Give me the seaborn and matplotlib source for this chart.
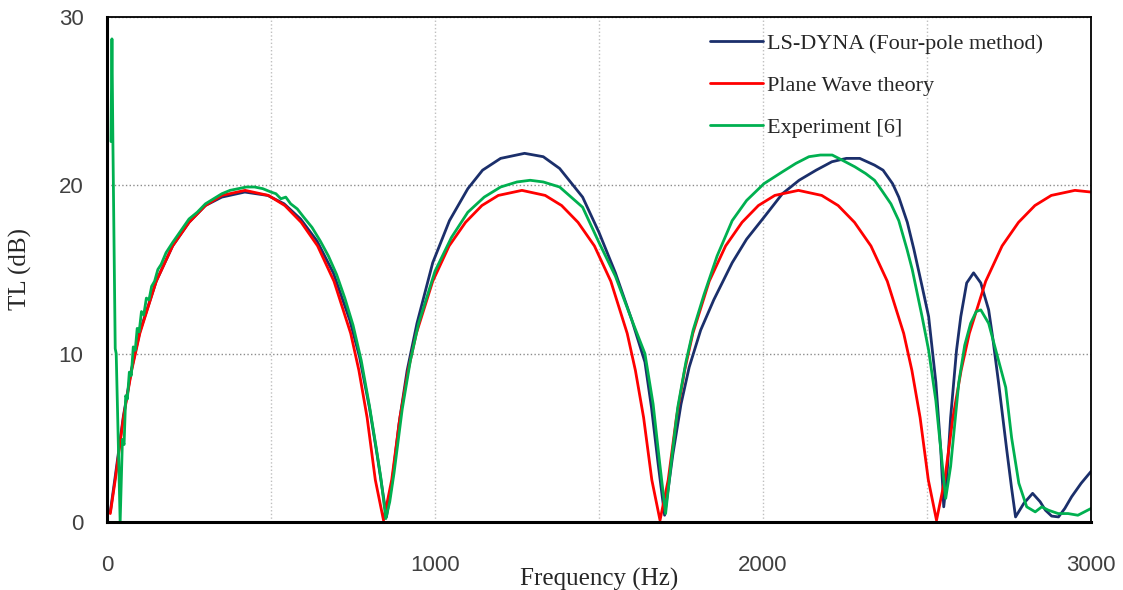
import pandas as pd
import numpy as np
import matplotlib
matplotlib.use("Agg")
import matplotlib.pyplot as plt
from matplotlib.ticker import MultipleLocator
import seaborn as sns

# LS-DYNA (four-pole method)
dyna_f = [10, 25, 50, 75, 100, 150, 200, 250, 300, 350, 420, 490, 540, 590, 640, 690, 740, 770, 800, 825, 852,
          870, 890, 915, 945, 993, 1044, 1100, 1145, 1200, 1273, 1330, 1380, 1450, 1500, 1550, 1600, 1640, 1660, 1680, 1700,
          1725, 1750, 1775, 1810, 1850, 1906, 1950, 2003, 2059, 2110, 2162, 2210, 2254, 2295, 2340, 2366, 2395, 2414,
          2440, 2460, 2485, 2505, 2527, 2542, 2551, 2560, 2572, 2590, 2603, 2621, 2642, 2664, 2688, 2700, 2718, 2743,
          2758, 2770, 2795, 2822, 2845, 2861, 2880, 2901, 2920, 2941, 2970, 3000]
dyna_tl = [0.6, 2.7, 6.3, 9.1, 11.3, 14.3, 16.4, 17.8, 18.8, 19.3, 19.6, 19.4, 18.9, 18.0, 16.7, 14.8, 12.0, 9.8, 6.8, 3.8, 0.3,
           2.5, 5.8, 9.0, 11.8, 15.4, 17.9, 19.8, 20.9, 21.6, 21.9, 21.7, 21.0, 19.3, 17.2, 14.8, 12.0, 9.5, 6.8, 3.5, 0.4,
           4.0, 7.0, 9.2, 11.4, 13.2, 15.4, 16.8, 18.1, 19.5, 20.3, 20.9, 21.4, 21.6, 21.6, 21.2, 20.9, 20.1, 19.3,
           17.8, 16.2, 14.0, 12.2, 8.3, 4.3, 0.9, 2.5, 6.2, 10.2, 12.2, 14.2, 14.8, 14.2, 12.6, 11.0, 8.3, 4.3,
           2.0, 0.3, 1.1, 1.7, 1.2, 0.7, 0.35, 0.3, 0.8, 1.5, 2.3, 3.0]

# plane wave theory
plane_f = [10, 25, 50, 75, 100, 150, 200, 250, 300, 350, 421, 492, 542, 592, 642, 692, 743, 768, 793, 818, 843,
           868, 893, 918, 943, 993, 1043, 1093, 1143, 1193, 1265, 1336, 1386, 1436, 1486, 1536, 1586, 1611, 1636, 1661, 1686,
           1711, 1736, 1761, 1786, 1836, 1886, 1936, 1986, 2036, 2108, 2179, 2229, 2279, 2329, 2379, 2429, 2454, 2479, 2504, 2529,
           2554, 2579, 2604, 2629, 2679, 2729, 2779, 2829, 2879, 2951, 3000]
plane_tl = [0.5, 2.5, 6.2, 9.0, 11.2, 14.3, 16.4, 17.8, 18.8, 19.4, 19.7, 19.4, 18.8, 17.8, 16.4, 14.3, 11.2, 9.0, 6.2, 2.5, 0.1,
            2.5, 6.2, 9.0, 11.2, 14.3, 16.4, 17.8, 18.8, 19.4, 19.7, 19.4, 18.8, 17.8, 16.4, 14.3, 11.2, 9.0, 6.2, 2.5, 0.1,
            2.5, 6.2, 9.0, 11.2, 14.3, 16.4, 17.8, 18.8, 19.4, 19.7, 19.4, 18.8, 17.8, 16.4, 14.3, 11.2, 9.0, 6.2, 2.5, 0.1,
            2.5, 6.2, 9.0, 11.2, 14.3, 16.4, 17.8, 18.8, 19.4, 19.7, 19.6]

# experiment [6]
exp_f = [12, 15, 18, 25, 28, 40, 47, 52, 57, 62, 68, 74, 80, 86, 92, 98, 105, 112, 120, 128, 136, 145, 155, 165, 180,
         200, 225, 250, 275, 300, 325, 350, 375, 400, 425, 450, 475, 500, 515, 530, 545, 560, 580, 600, 625, 650, 675,
         700, 725, 750, 775, 800, 820, 835, 850,
         862, 875, 900, 925, 950, 1000, 1050, 1100, 1150, 1200, 1250, 1290, 1330, 1380, 1450, 1500, 1550, 1600, 1640,
         1665, 1685, 1703,
         1720, 1740, 1765, 1787, 1820, 1860, 1906, 1950, 2003, 2059, 2100, 2140, 2175, 2211, 2241, 2280, 2313, 2340,
         2362, 2390, 2414, 2439, 2455, 2485, 2505, 2527, 2542, 2557, 2572, 2597, 2615, 2633, 2650, 2664, 2688, 2718,
         2740, 2758, 2780, 2804, 2830, 2850, 2870, 2900, 2930, 2960, 2980, 3000]
exp_tl = [22.6, 28.7, 22.4, 10.3, 10.0, 0.0, 4.9, 4.6, 7.5, 7.3, 8.9, 8.7, 10.4, 10.2, 11.5, 11.3, 12.5, 12.3, 13.3,
          13.2, 14.0, 14.3, 15.0, 15.3, 16.0, 16.6, 17.3, 18.0, 18.4, 18.9, 19.2, 19.5, 19.7, 19.8, 19.9, 19.9, 19.8,
          19.6, 19.5, 19.2, 19.3, 18.9, 18.6, 18.1, 17.5, 16.7, 15.8, 14.7, 13.3, 11.7, 9.6, 6.9, 4.5, 2.6, 0.2,
          1.2, 2.9, 6.7, 9.6, 11.8, 14.9, 16.9, 18.4, 19.3, 19.9, 20.2, 20.3, 20.2, 19.9, 18.7, 16.6, 14.6, 12.0, 10.0,
          7.0, 3.5, 0.5,
          3.5, 6.8, 9.5, 11.4, 13.5, 15.8, 17.9, 19.1, 20.1, 20.8, 21.3, 21.7, 21.8, 21.8, 21.5, 21.1, 20.7, 20.3,
          19.7, 18.9, 17.9, 16.2, 15.0, 12.2, 10.2, 7.2, 4.3, 1.4, 3.3, 8.3, 10.5, 11.8, 12.5, 12.6, 11.8, 9.6,
          8.0, 5.0, 2.3, 0.9, 0.6, 0.9, 0.7, 0.5, 0.5, 0.4, 0.6, 0.8]

sns.set_style("white")
plt.rcParams['font.family'] = ['Liberation Sans', 'DejaVu Sans']

fig = plt.figure(figsize=(11.23, 5.9), dpi=100)
ax = fig.add_axes([0.0953, 0.1153, 0.8762, 0.8559])

sns.lineplot(x=dyna_f, y=dyna_tl, color='#1b2f6b', lw=2.0, ax=ax, label='LS-DYNA (Four-pole method)')
sns.lineplot(x=plane_f, y=plane_tl, color='#ff0000', lw=2.0, ax=ax, label='Plane Wave theory')
sns.lineplot(x=exp_f, y=exp_tl, color='#00b050', lw=2.0, ax=ax, label='Experiment [6]')

ax.set_xlim(0, 3000)
ax.set_ylim(0, 30)
ax.xaxis.set_major_locator(MultipleLocator(1000))
ax.xaxis.set_minor_locator(MultipleLocator(500))
ax.yaxis.set_major_locator(MultipleLocator(10))
ax.grid(True, axis='x', which='both', color='#bfbfbf', ls=':', lw=1)
ax.grid(True, axis='y', which='major', color='#8c8c8c', ls=':', lw=1)
ax.tick_params(axis='both', which='both', length=0, labelsize=16, labelcolor='#404040')
ax.tick_params(axis='x', pad=24)
ax.tick_params(axis='y', pad=17)

for side in ['left', 'bottom']:
    ax.spines[side].set_linewidth(2.2)
    ax.spines[side].set_color('black')
for side in ['top', 'right']:
    ax.spines[side].set_linewidth(1.3)
    ax.spines[side].set_color('black')

ax.set_xlabel('Frequency (Hz)', family='Liberation Serif', fontsize=18)
ax.set_ylabel('TL (dB)', family='Liberation Serif', fontsize=18)
ax.xaxis.set_label_coords(0.5, -0.09)
ax.yaxis.set_label_coords(-0.076, 0.5)

ax.legend(loc='upper left', bbox_to_anchor=(0.602, 0.99), frameon=False,
          prop={'family': 'Liberation Serif', 'size': 16},
          handlelength=2.35, handletextpad=0.18, labelspacing=0.97, borderpad=0)

fig.savefig('out.png', dpi=100)
